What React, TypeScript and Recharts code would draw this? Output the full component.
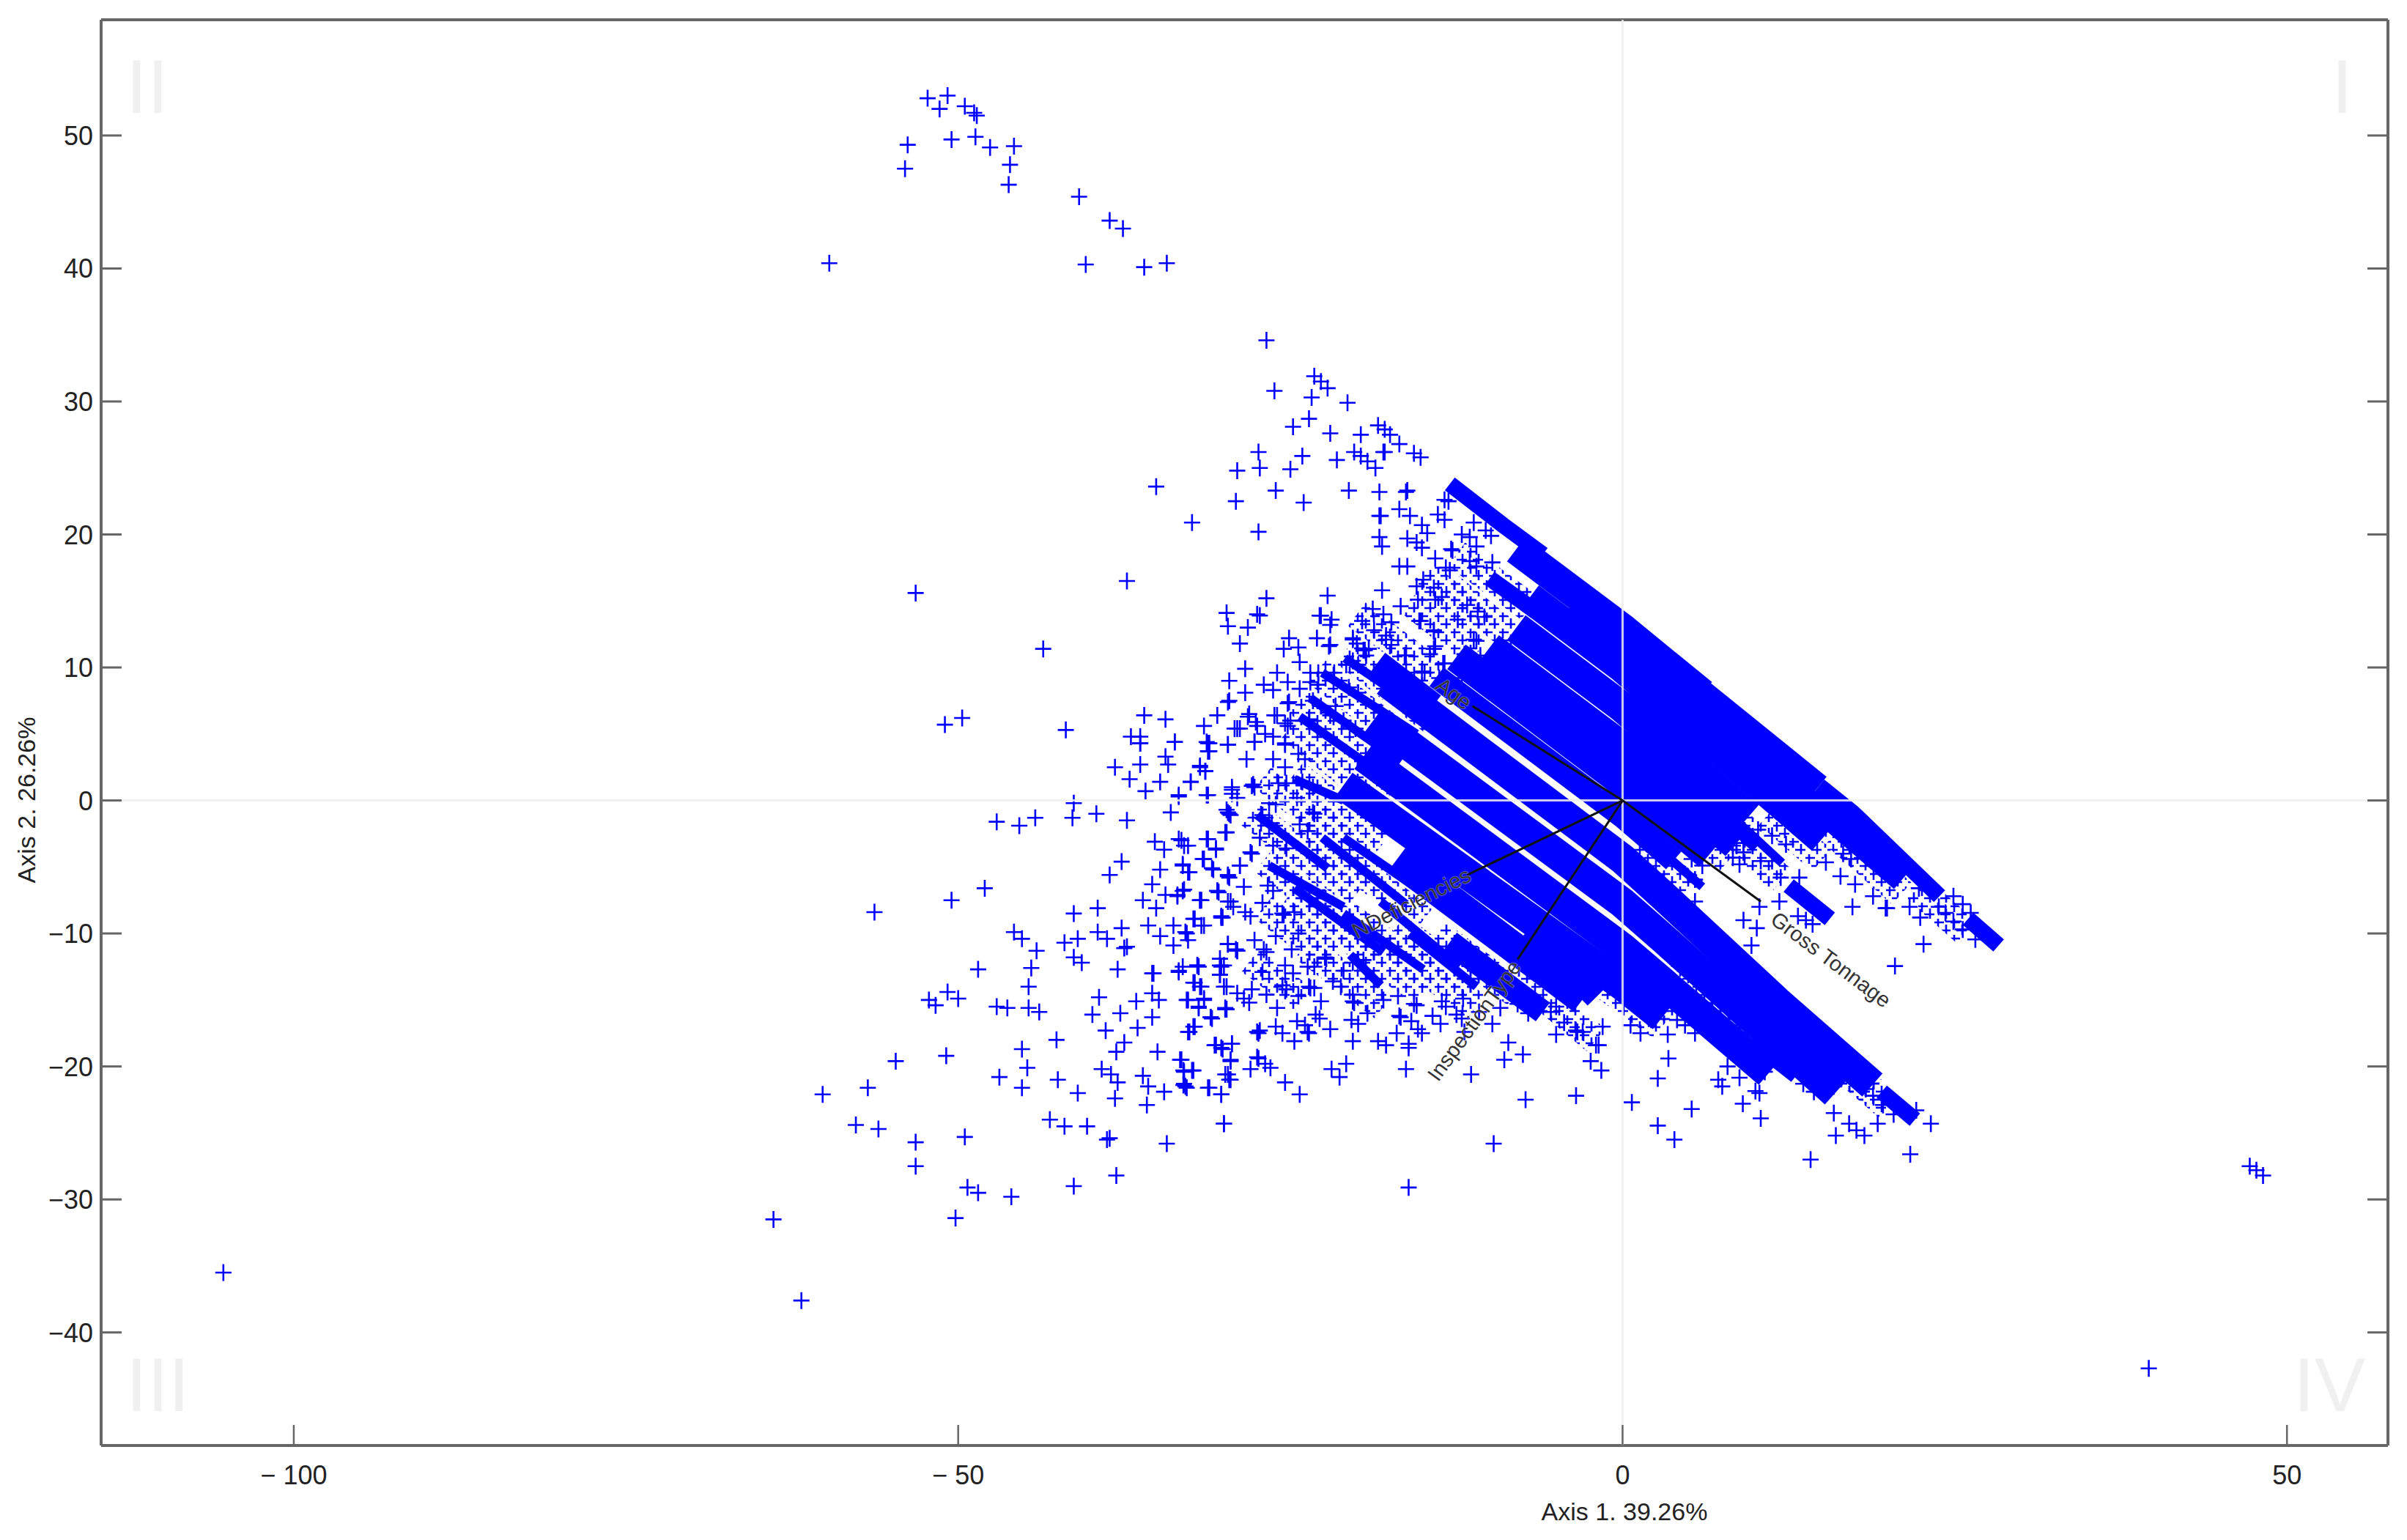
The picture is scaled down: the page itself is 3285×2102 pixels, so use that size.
import { Scatter, ScatterChart, XAxis, YAxis } from "recharts";

type Pair = [number, number];

const xTicks = [-100, -50, 0, 50];
const yTicks = [50, 40, 30, 20, 10, 0, -10, -20, -30, -40];
const xDomain = [-114.5, 57.6];
const yDomain = [-48.5, 58.7];

const vectorNames = ["Age", "Gross Tonnage", "NDeficiencies", "InspectionType"];
const vectorEndX = [-11.3, 10.4, -11.7, -7.9];
const vectorEndY = [7.1, -7.6, -5.6, -11.95];

// lone points far from the main cloud
const outliers: Pair[] = [
  [-105.3, -35.5], [-63.9, -31.5], [-61.8, -37.6], [39.6, -42.7], [47.2, -27.5], [47.7, -27.8], [48.2, -28.2],
  [-53.2, 15.6], [-43.6, 11.4], [-51, 5.7], [-49.7, 6.2], [-41.9, 5.3], [-37.3, 16.5], [-35.1, 23.6], [-32.4, 20.9],
];

const topCluster: Pair[] = [
  [-52.3, 52.8], [-50.8, 53], [-51.4, 52], [-49.5, 52.2], [-48.8, 51.7], [-48.6, 51.5], [-53.8, 49.3], [-50.5, 49.7],
  [-48.7, 49.9], [-47.6, 49.1], [-45.8, 49.2], [-54, 47.5], [-46.1, 47.8], [-46.2, 46.3], [-40.9, 45.4], [-38.6, 43.6],
  [-37.6, 43], [-59.7, 40.4], [-40.4, 40.3], [-36, 40.1], [-34.3, 40.4], [-26.8, 34.6],
];

const upperPoints: Pair[] = [
  [-23.2, 31.9], [-22.7, 31.5], [-22.2, 31], [-26.2, 30.8], [-23.4, 30.3], [-20.7, 29.9], [-23.6, 28.7], [-24.8, 28.1],
  [-22, 27.6], [-18.4, 28.2], [-17.9, 27.9], [-17.5, 27.5], [-16.8, 26.8], [-19.7, 27.5], [-27.4, 26.2], [-24.1, 25.9],
  [-18, 26.2], [-17.9, 26.2], [-20.2, 26.2], [-19.7, 25.9], [-19.2, 25.5], [-18.6, 25], [-15.7, 26.1], [-15.2, 25.8],
  [-21.5, 25.6], [-27.3, 25], [-29, 24.8], [-25, 24.9], [-26.1, 23.3], [-29.1, 22.5], [-24, 22.4], [-20.6, 23.3],
  [-18.3, 23.2], [-16.3, 23.2], [-16.2, 23.3], [-27.4, 20.2], [-18.3, 21.4], [-18.2, 21.4], [-16.8, 21.9], [-16, 21.4],
  [-15.1, 20.7], [-14.7, 20.1], [-13.9, 21.5], [-13.4, 21.1], [-13.4, 22.6], [-13.1, 22.5], [-18.3, 19.8], [-18.1, 19.1],
  [-16.2, 19.7], [-15.5, 19.4], [-15.1, 19], [-14.1, 18.2], [-12.9, 18.9], [-12.8, 18.8], [-12.1, 20], [-11.5, 19.8],
  [-11.2, 20.9], [-10.3, 20.3], [-9.9, 19.9], [-11, 19.1], [-16.8, 17.6], [-16.2, 17.6], [-13.3, 17.5], [-13, 17.3],
  [-11.5, 18], [-11, 17.6], [-9.8, 17.9], [-15, 16.6], [-15.5, 16.1], [-14.2, 16], [-15.4, 15.1], [-14.1, 15.1],
  [-13.6, 15.3], [-18.1, 15.8], [-22.2, 15.4], [-26.8, 15.2], [-29.8, 14.1], [-29.7, 13.1], [-27.5, 14], [-27.3, 13.9],
  [-28.2, 13], [-28.8, 11.8], [-22.8, 13.9], [-22.7, 13.9], [-21.9, 13.6], [-22, 13.2], [-18.8, 14.4], [-18, 14],
  [-17.4, 13.4], [-19.6, 13.5], [-16.7, 14.6], [-15.3, 13.5], [-15.2, 13.5], [-12.4, 13.6], [-14.2, 12.7], [-11.7, 14.7],
  [-10.9, 14.2], [-10.4, 13.8], [-18.7, 12.8], [-17.8, 12.4], [-17.4, 11.7], [-20.3, 12.2], [-20, 11.8], [-19.4, 11.3],
  [-25.1, 12.2], [-23, 12.2], [-22.1, 11.6], [-22, 11.7], [-25.5, 11.4], [-24.4, 11.5], [-24.3, 10.4], [-16.3, 10.9],
  [-14.1, 11.6], [-14.5, 11], [-13.5, 10.3], [-11.2, 12.1], [-28.4, 9.9], [-29.6, 9], [-28.4, 8.1], [-29.7, 7.4],
  [-29.6, 7.5], [-36, 6.4], [-34.4, 6.1], [-30.5, 6.4], [-31.5, 5.6], [-37, 4.8], [-36.3, 4.8], [-36.3, 4.3],
  [-33.7, 4.4], [-27, 8.7], [-26.3, 8.3], [-26, 9.6], [-25.2, 8.9], [-24.3, 8.4], [-25.2, 7.3], [-25.1, 7.4],
  [-23.5, 9.6], [-22.9, 9.6], [-23.5, 8.9], [-22.9, 8.7], [-21.7, 9.6], [-29.2, 5.4], [-28.8, 5.4], [-28.2, 6.3],
  [-27.5, 5.6], [-26.9, 5], [-26.3, 4.8], [-26.2, 6.4], [-25.4, 5.8], [-23.6, 6.1], [-29.7, 4.2], [-27.7, 4.4],
  [-31.2, 4.3], [-25.4, 4.3], [-23.3, 7.5], [-22.7, 7.1], [-21.6, 7.1], [-22, 6.4], [-21, 6], [-20.1, 5.4],
  [-20.6, 8.5], [-19.9, 8.1], [-20.8, 10.2], [-19.9, 10.2], [-19.1, 11.4], [-15.1, 9.7], [-13.8, 9.2], [-12.1, 9.2],
  [-12.1, 10.2], [-11.7, 10.9], [-10.7, 10.9], [-9.6, 11], [-14.2, 11.4], [-14.2, 12.8], [-13.4, 10.3], [-14.9, 9.6],
  [-11, 12], [-11.9, 11], [-16.4, 10.9], [-17.8, 12.1], [-20.3, 12.1], [-19.5, 11.3], [-19.3, 10.9], [-20.3, 10.5],
];

const midPoints: Pair[] = [
  [-31.3, 4.4], [-31.2, 3.7], [-28.3, 3.1], [-27.7, 4.4], [-28.1, 6.5], [-27.6, 5.9], [-29, 5.4], [-26, 6.4],
  [-25.2, 5.6], [-25, 6], [-25.4, 4.2], [-24.4, 3.5], [-23.9, 3.1], [-26.3, 3.1], [-25.4, 2.5], [-31.8, 2.5],
  [-31.4, 2.2], [-32.5, 1.4], [-33.4, 0.4], [-31.3, 0.4], [-29.4, 0.8], [-29, 0.2], [-27.9, 1.1], [-27.8, 1.2],
  [-27.7, 1], [-25.9, 1.3], [-25.3, 1.3], [-26.6, -0.2], [-26.1, -0.3], [-24.5, 0.2], [-24.1, 1.4], [-23.3, 1],
  [-29.7, -0.9], [-29.6, -1], [-27.1, -1.1], [-26.4, -1.7], [-23.3, -0.9], [-23.2, -1], [-24.3, -1.8], [-23.7, -2.3],
  [-29.9, -2.4], [-31.3, -2.9], [-30.6, -3.6], [-33.2, -3], [-32.7, -3.4], [-31.6, -4.4], [-30.8, -5.2], [-33.1, -4.9],
  [-32.7, -5.4], [-28.8, -4.9], [-28, -3.9], [-27.9, -4], [-27.3, -2.8], [-26.3, -3.4], [-25.3, -3.6], [-29.7, -5.7],
  [-29.6, -5.8], [-30.5, -6.8], [-30.4, -6.9], [-28.5, -6.5], [-26.7, -6.4], [-26.3, -6.8], [-33.1, -6.8], [-33.5, -7.1],
  [-31.8, -7.5], [-31.7, -7.5], [-29.7, -7.6], [-29.3, -8], [-27.1, -7.7], [-28.4, -8.4], [-28, -8.7], [-30.2, -8.7],
  [-30.1, -8.8], [-32.2, -8.9], [-31.7, -9.4], [-32.8, -10], [-25.6, -8.5], [-25.5, -8.6], [-24.7, -8.4], [-26.1, -10.2],
  [-24.4, -10], [-24.9, -11.2], [-27.7, -10.5], [-27, -11.2], [-29.7, -10.8], [-29.1, -11.2],
];

const leftLowerPoints: Pair[] = [
  [-50.2, -31.4], [-46, -29.8], [-48.5, -29.5], [-49.3, -29.1], [-41.3, -29], [-38.1, -28.2], [-53.2, -27.5], [-53.2, -25.7],
  [-49.5, -25.3], [-56, -24.7], [-57.7, -24.4], [-60.2, -22.1], [-56.8, -21.6], [-54.7, -19.6], [-50.9, -19.2], [-38.6, -25.4],
  [-38.8, -25.5], [-43.1, -24], [-42, -24.5], [-40.3, -24.5], [-34.3, -25.8], [-30, -24.3], [-35.8, -22.9], [-38.2, -22.4],
  [-41, -22], [-42.5, -21], [-45.2, -21.6], [-46.9, -20.8], [-44.8, -20.1], [-45.2, -18.7], [-42.6, -18], [-39.2, -20.2],
  [-38.5, -20.6], [-38, -21.2], [-36.1, -20.7], [-35.7, -21.5], [-34.5, -21.9], [-32.9, -21.5], [-33, -21.3], [-31.1, -21.6],
  [-30.2, -22.1], [-33, -20.4], [-32.4, -20.3], [-33.3, -19.5], [-29.9, -20.6], [-29.5, -21], [-29.5, -19.6], [-29.4, -18.3],
  [-30.7, -18.4], [-30.2, -18.6], [-35, -18.9], [-38.1, -18.9], [-37.5, -18.2], [-38.9, -17.3], [-36.5, -17.1], [-32.7, -17.4],
  [-32.2, -17], [-39.9, -16.1], [-37.8, -16], [-35.4, -16.3], [-39.4, -14.8], [-36.6, -15.1], [-35.4, -14.5], [-34.9, -15],
  [-32.8, -15], [-31.9, -15.6], [-31.5, -15], [-31, -16.3], [-29.9, -15.7], [-44.7, -15.6], [-43.9, -15.9], [-46.3, -15.6],
  [-47.1, -15.5], [-44.7, -14], [-44.5, -12.6], [-48.5, -12.7], [-44.1, -11.3], [-45.2, -10.4], [-45.8, -9.9], [-42, -10.7],
  [-41, -10.4], [-39.5, -9.9], [-38.8, -10.4], [-37.7, -9.6], [-37.3, -11], [-37.5, -11.1], [-41.3, -11.8], [-40.7, -12.2],
  [-38, -12.7], [-35.4, -13], [-35.3, -13], [-33.4, -12.9], [-33.1, -12.5], [-32, -12.4], [-30.3, -11.9], [-30, -12.4],
  [-30.3, -13.1], [-32.3, -13.7], [-31.7, -14], [-29.8, -14], [-29, -14.5], [-29.7, -10.8], [-29, -11.3], [-32.7, -10.5],
  [-33.8, -10.9], [-32.9, -9.9], [-33.8, -9.4], [-34.8, -10.2], [-35.7, -9.4], [-32.3, -8.9], [-31.5, -9.4], [-30.2, -8.8],
  [-35.1, -8.1], [-36.1, -7.5], [-41.3, -8.5], [-39.5, -8.1], [-34.4, -7.1], [-33.5, -7.2], [-33, -6.7], [-31.8, -7.5],
  [-30.5, -6.8], [-29.5, -7.6], [-35.4, -6.3], [-34.8, -5.2], [-33.1, -4.8], [-32.6, -5.4], [-31.5, -4.4], [-30.9, -5.1],
  [-29.7, -5.6], [-28.8, -4.9], [-38.6, -5.6], [-37.7, -4.6], [-48, -6.6], [-50.5, -7.5], [-56.3, -8.4], [-47.1, -1.6],
  [-45.4, -1.9], [-44.2, -1.3], [-41.4, -1.3], [-41.3, -0.2], [-39.6, -1], [-37.3, -1.5], [-34, -0.9], [-35.2, -3.1],
  [-34.5, -3.7], [-33.4, -2.9], [-33, -3.4], [-31.2, -2.9], [-30.6, -3.7], [-29.8, -2.4], [-29.8, -0.7], [-29.5, -1.1],
  [-31.2, 0.4], [-33.4, 0.3], [-35.9, 0.7], [-34.8, 1.4], [-37.1, 1.6], [-38.2, 2.5], [-36.3, 2.7], [-34.2, 2.7],
  [-34.4, 3.3], [-31.8, 2.6], [-31.4, 2.2], [-32.5, 1.4], [-29.4, 1], [-29.4, 0.5], [-33.7, 4.4], [-36.3, 4.3],
  [-31.1, 4.3], [-31.1, 3.7], [-29.7, 4.2], [-52.2, -15], [-51.7, -15.4], [-50.8, -14.4], [-50, -14.9],
];

const lowerPoints: Pair[] = [
  [-33.2, -19.5], [-33.05, -20.3], [-32.3, -20.3], [-33.05, -21.4], [-32.8, -21.6], [-31.2, -21.6], [-30.2, -22.1], [-30, -24.3],
  [-25.4, -21.2], [-24.3, -22.1], [-28, -20.2], [-26.5, -20.1], [-26.9, -19.8], [-27.5, -19.3], [-27.4, -19.4], [-29.5, -19.5],
  [-29.7, -20.6], [-29.6, -21], [-30.6, -18.4], [-30.1, -18.7], [-29.4, -18.3], [-27.5, -17.4], [-27.4, -17.5], [-27.3, -17.3],
  [-26.1, -17], [-25.6, -17.5], [-24.7, -18.1], [-23.7, -17.4], [-23.6, -17.5], [-23.9, -16.9], [-24.5, -16.6], [-22, -17.2],
  [-20.3, -18.1], [-19.9, -16.8], [-20.4, -16.5], [-19.2, -16], [-18.4, -18.1], [-17.8, -18.4], [-17, -17.5], [-16.1, -18.3],
  [-16.1, -18.6], [-15.1, -17.5], [-15.4, -17.2], [-15.9, -16.6], [-16.8, -16.2], [-16.7, -16.3], [-13.7, -16.8], [-14.3, -16.2],
  [-12.1, -16.4], [-12.5, -16.1], [-9.8, -16.8], [-11.9, -17.4], [-8.6, -18.2], [-7.5, -19.1], [-8.9, -19.5], [-11.4, -20.6],
  [-21.9, -20.2], [-21.3, -20.8], [-20.8, -19.8], [-16.3, -20.2], [-7.3, -22.5], [-3.5, -22.2], [-9.7, -25.8], [-16.1, -29.1],
  [-5, -17.6], [-2.4, -19.6], [-1.6, -20.3], [-2, -18.4], [-1.8, -18.4], [-3.5, -17.3], [-3.4, -17.4], [-3, -17.4],
  [-4.4, -16.7], [-5.4, -15.9], [-5, -15.5], [-1.5, -17], [-7.1, -16], [-7.9, -15.3], [-7.8, -14.8], [-9.2, -15.6],
  [-15.5, -15.4], [-15.7, -15.3], [-13.6, -15.1], [-13.3, -15.5], [-12, -14.9], [-10.8, -15.9], [-20.3, -15.1], [-20.2, -15.2],
  [-20.3, -14.6], [-18, -15], [-16.9, -14.7], [-23.1, -16.1], [-22.8, -16.4], [-22.7, -15.1], [-21.8, -13.6], [-21.2, -14],
  [-23.6, -14], [-23.5, -14.1], [-23.2, -14.1], [-24.4, -14.7], [-26, -15.6], [-25.3, -14.2], [-25.6, -13.9], [-26.8, -14.6],
  [-27.9, -14.2], [-28.5, -14.9], [-28.1, -15.2], [-29.9, -15.6], [-29.8, -15.7], [-30, -14], [-30.3, -12.4], [-30.2, -12.5],
  [-30.3, -13.1], [-31, -16.3], [-30.9, -16.4], [-31.9, -15.5], [-31.5, -14.9], [-32.7, -15], [-31.8, -14], [-32.2, -13.7],
  [-32, -12.4], [-31.9, -12.5], [-33.4, -12.8], [-32.3, -17], [-32.6, -17.4], [-27.1, -12.9], [-29, -11.3], [-26.8, -11.4],
  [-25.4, -12.4], [-24.8, -13], [-23.2, -12.5], [-23.7, -12.5], [-20.3, -12.2], [-21, -12.8], [-19.5, -12], [-19.9, -12],
  [-22.4, -11.8], [-22.3, -11.9],
];

const rightPoints: Pair[] = [
  [15.3, -4.65], [16.6, -4], [17.2, -4.4], [16.4, -5.7], [17.5, -6.3], [18.85, -7.2], [17.3, -8], [19.8, -8.1],
  [19.9, -8.1], [21.6, -8], [22.4, -8.8], [22.3, -6.6], [23.8, -8], [24.3, -8.45], [24.9, -9.1], [25.6, -9.7],
  [26.55, -10.45], [22.65, -10.8], [20.5, -12.45], [24.9, -7.2], [25.6, -7.8], [26.2, -8.45], [11.8, -7.6], [10.3, -8],
  [9.1, -9], [10.1, -9.6], [9.7, -10.9], [13.2, -8.7], [13.8, -9], [14.3, -9.3], [11.9, -5.8], [13.3, -5.8],
  [11.25, -4.55], [10.4, -4.55], [8.3, -3.4], [9.1, -3.2], [9.1, -3.9], [8.3, -4.3], [8.8, -4.8], [6.4, -3.4],
  [5.2, -4.4], [6, -4.9], [5.45, -5.95], [5.45, -7.6], [10.2, -2.2], [11.25, -2.65], [12.3, -3.3], [14, -2.9],
  [15.3, -2.1], [3.45, -19.4], [2.65, -20.9], [0.7, -22.7], [5.2, -23.2], [2.65, -24.45], [3.9, -25.5], [7.2, -21],
  [7.5, -21.5], [8.8, -20.85], [7.9, -20], [9.05, -22.8], [10.4, -23.9], [10, -21.85], [10.3, -22], [10.7, -20.4],
  [9.55, -19.7], [9.05, -19.1], [7.9, -18.5], [7.25, -18.05], [8.85, -17.6], [3.4, -17.6], [1.35, -17.5], [0.6, -16.9],
  [1.97, -16.4], [5.45, -17.5], [4.7, -16.9], [4.1, -16.5], [6.8, -17.1], [7.2, -17.6], [14.15, -27], [15.9, -23.5],
  [16.05, -25.2], [21.65, -26.6], [17.05, -24.3], [17.6, -24.8], [18.2, -25.2], [19.2, -24.3], [14.4, -21.9], [15.9, -21.5],
  [17.4, -21], [18.3, -21.7], [18.85, -22.2], [19.6, -22.9], [20.4, -23.6], [22.1, -23.3], [23.2, -24.3], [11.9, -19.4],
  [12.7, -20.4], [13.6, -21.3],
];

// runs where the crosses overlap so much they read as solid diagonal bands
const solidBands: Pair[][] = [
  [[-17.8, 8.95], [0, -4.4], [3.2, -7.3], [11.6, -15.1], [18.8, -21.4]],
  [[-18.7, 6.1], [0, -7.7], [3.2, -10.5], [16, -22]],
  [[-19.5, 3.3], [0, -11.1], [11, -20.5]],
  [[-21, 1.15], [0, -13.9], [3, -16.3]],
  [[-17, -4.45], [-3, -14.95]],
  [[-7, 15.25], [0, 10], [15, -2.9]],
  [[-8, 13], [0, 7], [9.5, -1.2]],
  [[-10, 11.5], [0, 4], [8.5, -3.3]],
  [[-12.5, 10.8], [0, 1.4], [6.5, -4.1]],
  [[-8, 18.9], [0, 12.9], [6, 8]],
];

const wideBands: Pair[][] = [
  [[6, 8.2], [14.8, 1.1]],
  [[-4, 14.5], [0, 11.5], [16, -1.7], [21, -6]],
  [[-18.4, 10.4], [-14.2, 7.2]],
  [[-13, -10.65], [-6, -15.9]],
  [[-7, -9.7], [-2, -14.8]],
  [[-14, 9.3], [0, -1.2], [3.85, -4.5]],
];

const mediumBands: Pair[][] = [
  [[14.8, 1.1], [17.3, -0.9], [23.85, -7.2]],
  [[19.5, -21.9], [22, -24]],
  [[26, -8.9], [28.3, -10.9]],
  [[-13, 23.8], [-9, 20.7], [-6, 18.5]],
  [[12.5, -6.4], [15.6, -8.9]],
  [[9.4, -16.7], [16.1, -21.3]],
  [[5.3, 2], [8.3, -0.3]],
  [[-10, 16.7], [-6.5, 14.2]],
];

// sparser runs: the crosses still show one by one, so these keep a cross texture
const hatchedBands: Pair[][] = [
  [[-20.9, 11.2], [-14, 5.8]], [[-23, 9.7], [-15.5, 3.8]], [[-24.5, 7.5], [-17, 1.6]], [[-25, 5.5], [-18, -0.2]],
  [[-27, 1.8], [-21, -3]], [[-24.7, 2], [-18, -3.2]], [[-28, -1], [-20, -7]], [[-24, -2], [-15, -9]],
  [[-27, -4.5], [-18, -11.5]], [[-25, -7], [-15, -14.5]], [[-21, -8.5], [-11, -15.5]], [[-24, -11], [-18, -15.5]],
  [[-27, -8], [-22, -12]], [[-28, -12], [-24, -15]], [[-20, 14], [-14, 9.5]], [[-16, 15], [-11, 11]],
  [[-15, 17], [-10, 13]], [[-12.5, 18.5], [-7, 14.5]], [[-13, 16], [-8, 12]], [[-8, -13], [-2, -18]],
  [[-4, -12], [3, -17]], [[3, -13], [9, -18]], [[9, -15], [15, -20.5]], [[13, -17], [20, -23]],
  [[15, -19], [19, -22]], [[8, -2.5], [12, -6]], [[11, -1], [15, -4.5]], [[16, -2.5], [21, -7]],
  [[22, -6.5], [26, -10]], [[1, -3.5], [5, -6.5]], [[4, -1], [8, -4.5]], [[7, 0], [10, -3]], [[0.5, -13], [4, -16]],
  [[-14, -10], [-8, -14.5]], [[-17, -9.5], [-11, -14]],
];

const thinBands: Pair[][] = [
  [[-20.9, 10.7], [-15, 6.7]],
  [[-22.6, 9.6], [-15.5, 5]],
  [[-24.3, 6.3], [-17.6, 1.6]],
  [[-23.5, 7.7], [-16.7, 2.9]],
  [[-24.7, 1.6], [-21, 0]],
  [[-21, -2.8], [-14, -7.6]],
  [[-22.6, -2.8], [-16.3, -7.8]],
  [[-21, -8.5], [-15, -12.7]],
  [[-18.2, -7.6], [-12.3, -12.5]],
  [[-20.5, -11.6], [-18.2, -13.9]],
  [[-27.5, -1.1], [-22.2, -5.1]],
  [[-26.6, -4.9], [-21, -8]],
  [[-24.7, -6.6], [-18, -11.4]],
  [[-16, -10], [-11, -14]],
  [[10.2, -18.8], [12.9, -20.9]],
  [[17.9, -3.3], [20.9, -6]],
  [[6, 0], [10, -3.6]],
  [[8, -1], [12, -4.7]],
  [[2, -3], [6, -6.5]],
];

const BLUE = "#0000ff";
const AXIS = "#666666";
const TICK_FONT = "'Liberation Sans Narrow', 'Liberation Sans', sans-serif";

const toRows = (pairs: Pair[]) => pairs.map(([x, y]) => ({ x, y }));

const fmtX = (v: number) => (v < 0 ? `− ${-v}` : `${v}`);
const fmtY = (v: number) => (v < 0 ? `−${-v}` : `${v}`);

function Cross({ cx, cy }: any) {
  return <path d={`M${cx - 11} ${cy}H${cx + 11}M${cx} ${cy - 11.5}V${cy + 11.5}`} stroke={BLUE} strokeWidth={2.6} fill="none" />;
}

const NoMark = () => <g />;

function BottomTick({ x, y, payload }: any) {
  return (
    <g>
      <line x1={x} x2={x} y1={y} y2={y - 30} stroke={AXIS} strokeWidth={2.5} />
      <text x={x} y={y + 51} textAnchor="middle" fontSize={36} fontFamily={TICK_FONT} fill="#222">
        {fmtX(payload.value)}
      </text>
    </g>
  );
}

function TopTick({ x, y }: any) {
  return <line x1={x} x2={x} y1={y} y2={y + 30} stroke={AXIS} strokeWidth={2.5} />;
}

function LeftTick({ x, y, payload }: any) {
  return (
    <g>
      <line x1={x} x2={x + 30} y1={y} y2={y} stroke={AXIS} strokeWidth={3} />
      <text x={x - 9} y={y + 13} textAnchor="end" fontSize={36} fontFamily={TICK_FONT} fill="#222">
        {fmtY(payload.value)}
      </text>
    </g>
  );
}

function RightTick({ x, y }: any) {
  return <line x1={x} x2={x - 30} y1={y} y2={y} stroke={AXIS} strokeWidth={3} />;
}

const labelAngles = [36, 37, -27, -54];
const labelShift: Pair[] = [[-6, 0], [16, 22], [4, 0], [0, 6]];
const labelAnchor = ["end", "start", "end", "end"];

function VectorLabel({ cx, cy, index, which }: any) {
  if (index !== 1) return <g />;
  const px = cx + labelShift[which][0];
  const py = cy + labelShift[which][1];
  return (
    <text
      x={px}
      y={py}
      transform={`rotate(${labelAngles[which]} ${px} ${py})`}
      textAnchor={labelAnchor[which]}
      dominantBaseline="middle"
      fontSize={29}
      fontFamily="'Liberation Sans', sans-serif"
      fill="#333"
      stroke="#ffffff"
      strokeOpacity={0.4}
      strokeWidth={1.5}
      paintOrder="stroke"
    >
      {vectorNames[which]}
    </text>
  );
}

function Quadrant({ left, top, text }: { left: number; top: number; text: string }) {
  return (
    <div style={{ position: "absolute", left, top, fontSize: 104, lineHeight: "104px", color: "#f0f0f0", fontFamily: "'Liberation Sans', sans-serif" }}>
      {text}
    </div>
  );
}

function bandSeries(bands: Pair[][], width: number, prefix: string, stroke = BLUE) {
  return bands.map((band, i) => (
    <Scatter
      key={`${prefix}${i}`}
      data={toRows(band)}
      fill={BLUE}
      line={{ stroke, strokeWidth: width, fill: "none" }}
      shape={NoMark}
      isAnimationActive={false}
    />
  ));
}

const titleStyle = { position: "absolute", fontSize: 34, lineHeight: "40px", color: "#222", fontFamily: TICK_FONT, whiteSpace: "nowrap" } as const;

export default function App() {
  const clouds = [outliers, topCluster, upperPoints, midPoints, leftLowerPoints, lowerPoints, rightPoints];
  return (
    <div style={{ position: "absolute", left: 0, top: 0, width: 3285, height: 2102, background: "#fff" }}>
      <ScatterChart width={3285} height={2102} margin={{ top: 26, right: 25, bottom: 0, left: 0 }}>
        <defs>
          <pattern id="crossHatch" width="22" height="22" patternUnits="userSpaceOnUse">
            <path d="M-3 5H13M5 -3V13M8 16H24M16 8V24" stroke={BLUE} strokeWidth="2.6" fill="none" />
          </pattern>
        </defs>
        <XAxis
          xAxisId={0}
          dataKey="x"
          type="number"
          domain={xDomain}
          ticks={xTicks}
          interval={0}
          height={129}
          tickSize={0}
          tick={BottomTick}
          allowDataOverflow
          axisLine={{ stroke: AXIS, strokeWidth: 4 }}
        />
        <XAxis
          xAxisId="top"
          orientation="top"
          type="number"
          domain={xDomain}
          ticks={xTicks}
          interval={0}
          height={1}
          tickSize={0}
          tick={TopTick}
          allowDataOverflow
          axisLine={{ stroke: AXIS, strokeWidth: 4 }}
        />
        <YAxis
          yAxisId={0}
          dataKey="y"
          type="number"
          domain={yDomain}
          ticks={yTicks}
          interval={0}
          width={138}
          tickSize={0}
          tick={LeftTick}
          allowDataOverflow
          axisLine={{ stroke: AXIS, strokeWidth: 4 }}
        />
        <YAxis
          yAxisId="right"
          orientation="right"
          type="number"
          domain={yDomain}
          ticks={yTicks}
          interval={0}
          width={1}
          tickSize={0}
          tick={RightTick}
          allowDataOverflow
          axisLine={{ stroke: AXIS, strokeWidth: 4 }}
        />

        {bandSeries(hatchedBands, 40, "hatch", "url(#crossHatch)")}
        {bandSeries(solidBands, 42, "solid")}
        {bandSeries(wideBands, 32, "wide")}
        {bandSeries(mediumBands, 22, "medium")}
        {bandSeries(thinBands, 12, "thin")}

        {clouds.map((cloud, i) => (
          <Scatter key={i} data={toRows(cloud)} fill={BLUE} shape={Cross} isAnimationActive={false} />
        ))}

        <Scatter
          data={[{ x: 0, y: yDomain[0] }, { x: 0, y: yDomain[1] }]}
          fill="#eeeeee"
          line={{ stroke: "#eeeeee", strokeWidth: 3, strokeOpacity: 0.85, fill: "none" }}
          shape={NoMark}
          isAnimationActive={false}
        />
        <Scatter
          data={[{ x: xDomain[0], y: 0 }, { x: xDomain[1], y: 0 }]}
          fill="#eeeeee"
          line={{ stroke: "#eeeeee", strokeWidth: 3, strokeOpacity: 0.85, fill: "none" }}
          shape={NoMark}
          isAnimationActive={false}
        />

        {vectorNames.map((name, i) => (
          <Scatter
            key={name}
            data={[{ x: 0, y: 0 }, { x: vectorEndX[i], y: vectorEndY[i] }]}
            fill="#111111"
            line={{ stroke: "#111111", strokeWidth: 3, fill: "none" }}
            shape={(p: any) => <VectorLabel {...p} which={i} />}
            isAnimationActive={false}
          />
        ))}
      </ScatterChart>
      <Quadrant left={172} top={66} text="II" />
      <Quadrant left={3182} top={66} text="I" />
      <Quadrant left={172} top={1838} text="III" />
      <Quadrant left={3130} top={1838} text="IV" />
      <div style={{ ...titleStyle, left: 2217, top: 2043, transform: "translateX(-50%)" }}>Axis 1. 39.26%</div>
      <div style={{ ...titleStyle, left: 36, top: 1092, transform: "translate(-50%, -50%) rotate(-90deg)" }}>Axis 2. 26.26%</div>
    </div>
  );
}
